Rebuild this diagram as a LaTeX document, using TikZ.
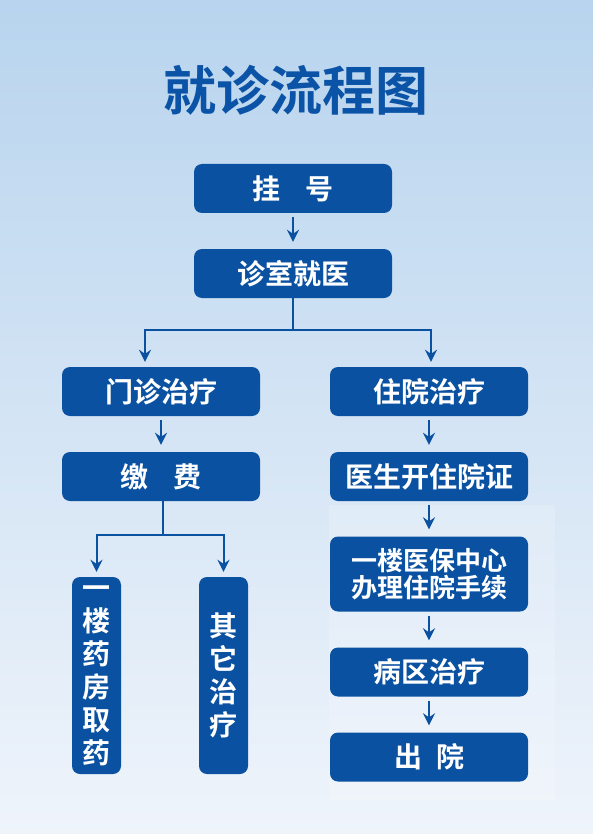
\documentclass[tikz,border=0pt]{standalone}
\usepackage{fontspec}
\setmainfont{Noto Sans CJK SC}[BoldFont={Noto Sans CJK SC Bold}]
\usetikzlibrary{arrows.meta}
\definecolor{flowbg}{HTML}{B8D4EE}
\definecolor{flowbgl}{HTML}{EFF4FB}
\definecolor{flowbox}{HTML}{0A51A1}
\definecolor{flowtitle}{HTML}{0B53A6}

\begin{document}
\begin{tikzpicture}[x=1pt,y=-1pt,
  box/.style={fill=flowbox,rounded corners=8pt,minimum width=198pt,minimum height=49pt,
    inner sep=0pt,text=white,font=\bfseries\fontsize{28}{28}\selectfont},
  vbox/.style={box,minimum width=49pt,minimum height=197pt,align=center,
    font=\bfseries\fontsize{28}{33}\selectfont},
  link/.style={draw=flowbox,line width=2pt},
  go/.style={link,-{Stealth[length=12pt,width=12pt,inset=4pt]},shorten <=4pt,shorten >=7pt}]
  \useasboundingbox (0,0) rectangle (593,834);
  \shade[top color=flowbg,bottom color=flowbgl] (0,0) rectangle (593,834);
  \fill[white,opacity=0.18] (329,505) rectangle (555,800);
  \node[text=flowtitle,font=\bfseries\fontsize{53}{53}\selectfont] (title) at (296,90) {就诊流程图};
  % main column
  \node[box] (reg) at (293,188.5) {挂\hspace{0.9em}号};
  \node[box] (clinic) at (293,273.5) {诊室就医};
  \node[box] (opd) at (161,391.5) {门诊治疗};
  \node[box] (ipd) at (429,391.5) {住院治疗};
  \node[box] (pay) at (161,476.5) {缴\hspace{0.9em}费};
  \node[box] (cert) at (429,476.5) {医生开住院证};
  \node[box,minimum height=75pt,align=center,font=\bfseries\fontsize{26}{27}\selectfont] (ins) at (429,574) {一楼医保中心\\办理住院手续};
  \node[box] (ward) at (429,672) {病区治疗};
  \node[box] (out) at (429,757) {出\hspace{0.5em}院};
  \node[vbox] (drug) at (96.5,675.5) {一\\楼\\药\\房\\取\\药};
  \node[vbox] (other) at (223.5,675.5) {其\\它\\治\\疗};
  % connectors
  \coordinate (fork) at (293,330);
  \coordinate (payfork) at (163,535);
  \foreach \a/\b in {reg/clinic,opd/pay,ipd/cert,cert/ins,ins/ward,ward/out}{\draw[go] (\a) -- (\b);}
  \draw[link] (clinic.south) -- (fork);
  \draw[link] (pay.south -| payfork) -- (payfork);
  \draw[go,shorten <=0pt,shorten >=5pt] (fork) -| ([xshift=-16pt]opd.north);
  \draw[go,shorten <=0pt,shorten >=5pt] (fork) -| ([xshift=2pt]ipd.north);
  \foreach \t in {drug,other}{\draw[go,shorten <=0pt,shorten >=5pt] (payfork) -| (\t.north);}
\end{tikzpicture}
\end{document}
